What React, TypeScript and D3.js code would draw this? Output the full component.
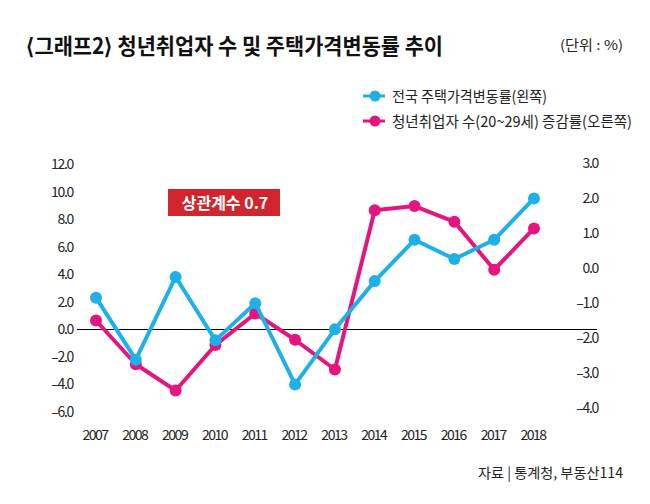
import React, { useRef, useEffect } from "react";
import * as d3 from "d3";

const years = ["2007", "2008", "2009", "2010", "2011", "2012", "2013", "2014", "2015", "2016", "2017", "2018"];
const housePrice = [2.3, -2.2, 3.8, -0.8, 1.9, -4.0, 0.0, 3.5, 6.5, 5.1, 6.5, 9.5];
const youthJobs = [-1.5, -2.75, -3.5, -2.2, -1.3, -2.05, -2.9, 1.65, 1.77, 1.32, -0.05, 1.13];
const leftTicks = [12, 10, 8, 6, 4, 2, 0, -2, -4, -6];
const rightTicks = [3, 2, 1, 0, -1, -2, -3, -4];

const BLUE = "#1eb1e7";
const PINK = "#e5157f";
const FONT = "'Noto Sans CJK KR', 'Noto Sans', sans-serif";

const fmt = (d: number) => (d < 0 ? "–" + d3.format(".1f")(-d) : d3.format(".1f")(d));

const App: React.FC = () => {
  const svgRef = useRef<SVGSVGElement>(null);

  useEffect(() => {
    const svg = d3.select(svgRef.current);
    svg.selectAll("*").remove();

    const x = d3.scalePoint().domain(years).range([96, 534]);
    const yL = d3.scaleLinear().domain([-6, 12]).range([412, 164]);
    const yR = d3.scaleLinear().domain([-4, 3]).range([408, 163]);

    // title
    svg
      .append("text")
      .attr("x", 26)
      .attr("y", 54)
      .attr("font-family", FONT)
      .attr("font-size", 22)
      .attr("font-weight", 700)
      .attr("fill", "#111")
      .attr("textLength", 417)
      .attr("lengthAdjust", "spacingAndGlyphs")
      .text("⟨그래프2⟩ 청년취업자 수 및 주택가격변동률 추이");

    svg
      .append("text")
      .attr("x", 623)
      .attr("y", 50)
      .attr("text-anchor", "end")
      .attr("font-family", FONT)
      .attr("font-size", 13.5)
      .attr("fill", "#222")
      .attr("textLength", 63)
      .attr("lengthAdjust", "spacingAndGlyphs")
      .text("(단위 :  %)");

    // legend
    const legend = [
      { label: "전국 주택가격변동률(왼쪽)", color: BLUE, w: 155 },
      { label: "청년취업자 수(20~29세) 증감률(오른쪽)", color: PINK, w: 240 },
    ];
    legend.forEach((d, i) => {
      const ly = 96 + i * 25;
      svg.append("line")
        .attr("x1", 363).attr("x2", 385)
        .attr("y1", ly).attr("y2", ly)
        .attr("stroke", d.color).attr("stroke-width", 3);
      svg.append("circle").attr("cx", 375).attr("cy", ly).attr("r", 5.5).attr("fill", d.color);
      svg.append("text")
        .attr("x", 392).attr("y", ly + 5.5)
        .attr("font-family", FONT)
        .attr("font-size", 15)
        .attr("fill", "#222")
        .attr("textLength", d.w)
        .attr("lengthAdjust", "spacingAndGlyphs")
        .text(d.label);
    });

    // axis labels (no axis lines in the original)
    svg.append("g")
      .selectAll("text")
      .data(leftTicks)
      .enter()
      .append("text")
      .attr("x", 73)
      .attr("y", (d) => yL(d) + 5)
      .attr("text-anchor", "end")
      .attr("font-family", FONT)
      .attr("font-size", 14)
      .attr("letter-spacing", -1.3)
      .attr("fill", "#222")
      .text(fmt);

    svg.append("g")
      .selectAll("text")
      .data(rightTicks)
      .enter()
      .append("text")
      .attr("x", 598)
      .attr("y", (d) => yR(d) + 5)
      .attr("text-anchor", "end")
      .attr("font-family", FONT)
      .attr("font-size", 14)
      .attr("letter-spacing", -1.3)
      .attr("fill", "#222")
      .text(fmt);

    svg.append("g")
      .selectAll("text")
      .data(years)
      .enter()
      .append("text")
      .attr("x", (d) => x(d)! - 1)
      .attr("y", 440)
      .attr("text-anchor", "middle")
      .attr("font-family", FONT)
      .attr("font-size", 14)
      .attr("letter-spacing", -1.5)
      .attr("fill", "#222")
      .text((d) => d);

    // zero line
    const zy = Math.round(yL(0)) + 0.5;
    svg.append("line")
      .attr("x1", 77).attr("x2", 597)
      .attr("y1", zy).attr("y2", zy)
      .attr("stroke", "#000").attr("stroke-width", 1.2);

    // correlation badge
    svg.append("rect")
      .attr("x", 168).attr("y", 189)
      .attr("width", 112).attr("height", 27)
      .attr("fill", "#d1252e");
    svg.append("text")
      .attr("x", 225).attr("y", 208.5)
      .attr("text-anchor", "middle")
      .attr("font-family", FONT)
      .attr("font-size", 16)
      .attr("font-weight", 700)
      .attr("fill", "#fff")
      .text("상관계수 0.7");

    const series = [
      { values: youthJobs, y: yR, color: PINK },
      { values: housePrice, y: yL, color: BLUE },
    ];
    series.forEach((s) => {
      const line = d3
        .line<number>()
        .x((_, i) => x(years[i])!)
        .y((d) => s.y(d));
      svg.append("path")
        .datum(s.values)
        .attr("d", line)
        .attr("fill", "none")
        .attr("stroke", s.color)
        .attr("stroke-width", 4)
        .attr("stroke-linejoin", "round");
      svg.append("g")
        .selectAll("circle")
        .data(s.values)
        .enter()
        .append("circle")
        .attr("cx", (_, i) => x(years[i])!)
        .attr("cy", (d) => s.y(d))
        .attr("r", 6)
        .attr("fill", s.color);
    });

    // source
    svg.append("text")
      .attr("x", 623).attr("y", 478)
      .attr("text-anchor", "end")
      .attr("font-family", FONT)
      .attr("font-size", 14)
      .attr("fill", "#222")
      .attr("textLength", 145)
      .attr("lengthAdjust", "spacingAndGlyphs")
      .text("자료 | 통계청, 부동산114");
  }, []);

  return (
    <svg
      ref={svgRef}
      width={650}
      height={504}
      style={{ position: "absolute", left: 0, top: 0, background: "#fff" }}
    ></svg>
  );
};

export default App;
